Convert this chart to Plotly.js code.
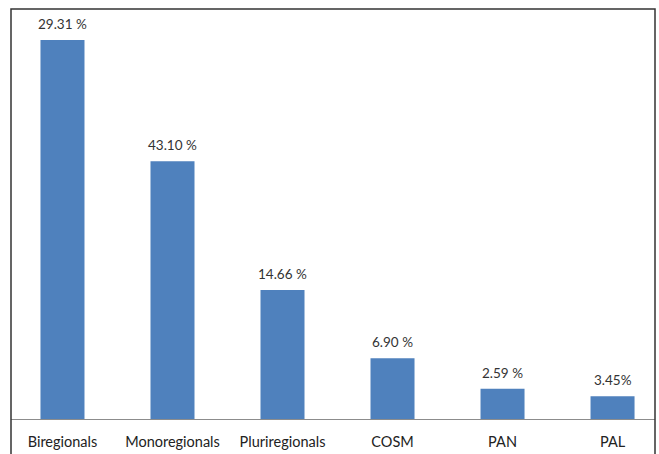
<!DOCTYPE html>
<html><head><meta charset="utf-8">
<script src="https://cdn.plot.ly/plotly-3.0.1.min.js"></script>
<style>html,body{margin:0;padding:0;background:#fff}#c{width:659px;height:454px}</style>
</head><body><div id="c"></div>
<script>
var categories = ["Biregionals", "Monoregionals", "Pluriregionals", "COSM", "PAN", "PAL"];
var barValues = [43.10, 29.31, 14.66, 6.90, 3.45, 2.59];
var barLabels = ["29.31 %", "43.10 %", "14.66 %", "6.90 %", "2.59 %", "3.45%"];

var font = "Lato, 'Open Sans', 'DejaVu Sans', sans-serif";
var annotations = categories.map(function (c, i) {
  return {x: c, y: barValues[i], text: barLabels[i], showarrow: false, yanchor: "bottom",
          yshift: 6, font: {family: font, size: 13.5, color: "#333"}};
});

Plotly.newPlot("c", [{
  type: "bar", x: categories, y: barValues,
  marker: {color: "#4F81BD"}, hoverinfo: "none"
}], {
  width: 659, height: 454,
  margin: {l: 11, r: 4, t: 9, b: 35},
  bargap: 0.6,
  paper_bgcolor: "#fff", plot_bgcolor: "#fff",
  showlegend: false,
  xaxis: {range: [-0.468, 5.386], showline: true, linecolor: "#8c8c8c", linewidth: 1,
          ticks: "", ticklabelstandoff: 10, showgrid: false, zeroline: false,
          tickfont: {family: font, size: 14.5, color: "#222"}},
  yaxis: {range: [0, 46.62], visible: false, showgrid: false, zeroline: false},
  annotations: annotations,
  shapes: [{type: "rect", xref: "paper", yref: "paper", x0: 0, x1: 1, y0: -0.2, y1: 1,
            line: {color: "#333", width: 1.5}, fillcolor: "rgba(0,0,0,0)"}]
}, {staticPlot: true});
</script></body></html>
